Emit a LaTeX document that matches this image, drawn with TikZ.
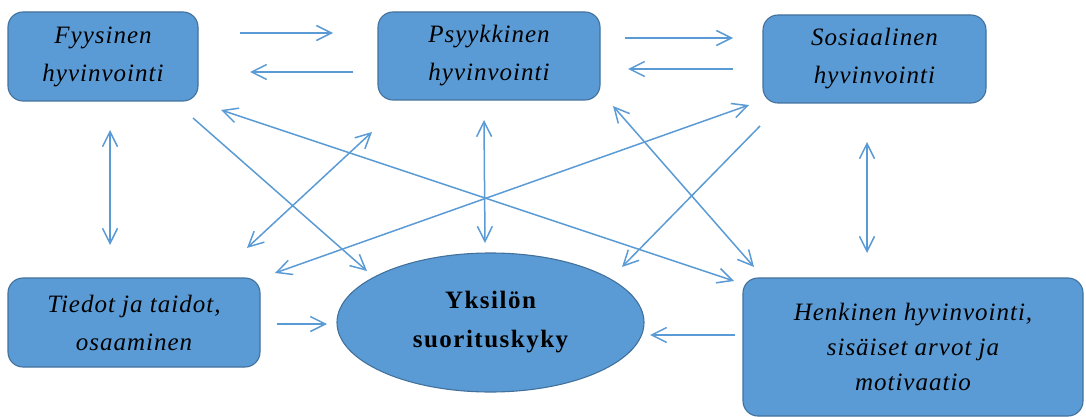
\documentclass[tikz,border=0pt]{standalone}
\usepackage{fontspec}
\setmainfont{Liberation Serif}
\usetikzlibrary{arrows.meta,shapes.geometric}
\definecolor{boxblue}{HTML}{5B9BD5}
\definecolor{boxedge}{HTML}{41719C}
\definecolor{arrowblue}{HTML}{5B9BD5}
\begin{document}
\begin{tikzpicture}[x=1pt,y=-1pt,
  card/.style={draw=boxedge, fill=boxblue, line width=1.1pt, rounded corners=15pt,
    inner sep=0pt, align=center,
    font=\fontsize{25}{38}\selectfont\itshape\addfontfeature{LetterSpace=4}},
  core/.style={ellipse, draw=boxedge, fill=boxblue, line width=1.1pt, inner sep=0pt,
    align=center, font=\fontsize{25}{39}\selectfont\bfseries\addfontfeature{LetterSpace=6}},
  tip/.tip={Straight Barb[length=15pt,width=15pt]},
  link/.style={draw=arrowblue, line width=1.5pt, -tip},
  twoway/.style={draw=arrowblue, line width=1.5pt, tip-tip}]

\useasboundingbox (0,0) rectangle (1086,417);

% wellbeing areas and the performance ellipse
\node[card, minimum width=190pt, minimum height=89pt] (fy) at (103,56.5) {Fyysinen\\hyvinvointi};
\node[card, minimum width=222pt, minimum height=88pt] (ps) at (489,56) {Psyykkinen\\hyvinvointi};
\node[card, minimum width=223pt, minimum height=88pt] (so) at (874.5,59) {Sosiaalinen\\hyvinvointi};
\node[card, minimum width=252pt, minimum height=89pt] (ti) at (134,322.5) {Tiedot ja taidot,\\osaaminen};
\node[card, minimum width=340pt, minimum height=138pt,
  font=\fontsize{25}{35}\selectfont\itshape\addfontfeature{LetterSpace=4}] (he) at (913,347)
  {Henkinen hyvinvointi,\\sisäiset arvot ja\\motivaatio};
\node[core, minimum width=307pt, minimum height=139pt] (yk) at (490.5,322.5) {Yksilön\\suorituskyky};

% arrow end points
\coordinate (fyR) at (240,33);   \coordinate (psL) at (333,33);
\coordinate (psL2) at (353,72);  \coordinate (fyR2) at (250,72);
\coordinate (psR) at (625,38);   \coordinate (soL) at (733,38);
\coordinate (soL2) at (733,69);  \coordinate (psR2) at (628,69);
\coordinate (fyB) at (110,130);  \coordinate (tiT) at (110,245);
\coordinate (soB) at (867,142);  \coordinate (heT) at (867,253);
\coordinate (psB) at (484,120);  \coordinate (ykT) at (485,243);
\coordinate (fyD) at (193,118);  \coordinate (ykL) at (367,271);
\coordinate (fyE) at (221,110);  \coordinate (heL) at (734,281);
\coordinate (psD) at (372,132);  \coordinate (tiU) at (247,248);
\coordinate (soD) at (749,105);  \coordinate (tiR) at (275,273);
\coordinate (soE) at (760,126);  \coordinate (ykR) at (622,267);
\coordinate (psE) at (613,106);  \coordinate (heU) at (754,267);
\coordinate (tiS) at (277,324);  \coordinate (ykW) at (327,324);
\coordinate (heS) at (735,335);  \coordinate (ykE) at (650,335);

% connections
\draw[link] (fyR) -- (psL);
\draw[link] (psL2) -- (fyR2);
\draw[link] (psR) -- (soL);
\draw[link] (soL2) -- (psR2);
\draw[twoway] (fyB) -- (tiT);
\draw[twoway] (soB) -- (heT);
\draw[twoway] (psB) -- (ykT);
\draw[link] (fyD) -- (ykL);
\draw[twoway] (fyE) -- (heL);
\draw[twoway] (psD) -- (tiU);
\draw[twoway] (soD) -- (tiR);
\draw[link] (soE) -- (ykR);
\draw[twoway] (psE) -- (heU);
\draw[link] (tiS) -- (ykW);
\draw[link] (heS) -- (ykE);
\end{tikzpicture}
\end{document}
